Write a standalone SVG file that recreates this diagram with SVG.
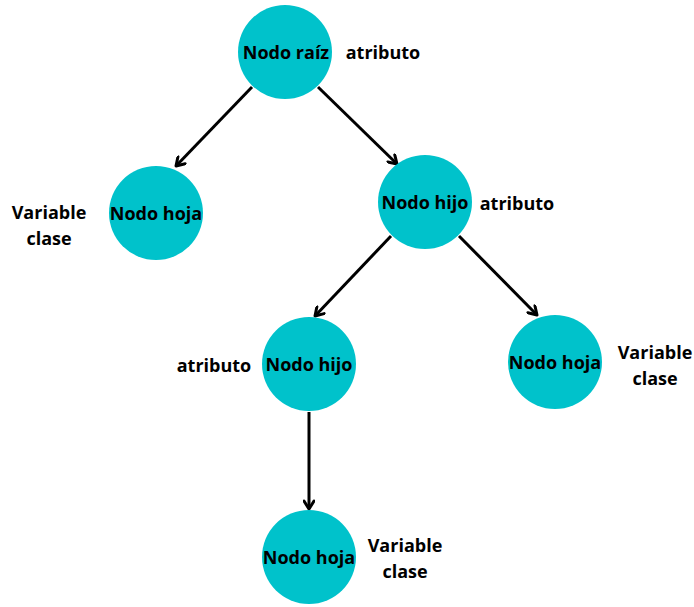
<svg xmlns="http://www.w3.org/2000/svg" width="694" height="607" viewBox="0 0 694 607">
  <style>
    .node { fill: #00C2CB; }
    .lbl { font-family: "Open Sans", "Liberation Sans", sans-serif; font-weight: bold; font-size: 18px; fill: #000; text-anchor: middle; dominant-baseline: central; }
    .edge { stroke: #000; stroke-width: 3; fill: none; marker-end: url(#chev); }
  </style>
  <defs>
    <marker id="chev" viewBox="0 0 12 12" refX="10" refY="6" markerWidth="12" markerHeight="12" markerUnits="userSpaceOnUse" orient="auto">
      <polyline points="2,1 10,6 2,11" fill="none" stroke="#000" stroke-width="3" stroke-linecap="round" stroke-linejoin="round"/>
    </marker>
  </defs>
  <rect width="694" height="607" fill="#fff"/>

  <g id="connectors">
    <line class="edge" x1="252" y1="87" x2="176" y2="166"/>
    <line class="edge" x1="318" y1="87" x2="397" y2="164"/>
    <line class="edge" x1="391" y1="236" x2="315" y2="316"/>
    <line class="edge" x1="459" y1="236" x2="537" y2="315"/>
    <line class="edge" x1="309" y1="412" x2="309" y2="509"/>
  </g>

  <g id="root">
    <circle class="node" cx="285" cy="52" r="47"/>
    <text class="lbl" x="286" y="52">Nodo raíz</text>
    <text class="lbl" x="383" y="52">atributo</text>
  </g>

  <g id="leaf-left">
    <circle class="node" cx="156" cy="213" r="47"/>
    <text class="lbl" x="156" y="213">Nodo hoja</text>
    <text class="lbl" x="49" y="212">Variable</text>
    <text class="lbl" x="49" y="238">clase</text>
  </g>

  <g id="child-right">
    <circle class="node" cx="425" cy="202" r="47"/>
    <text class="lbl" x="425" y="202">Nodo hijo</text>
    <text class="lbl" x="517" y="203">atributo</text>
  </g>

  <g id="child-lower">
    <circle class="node" cx="309" cy="364" r="47"/>
    <text class="lbl" x="309" y="364">Nodo hijo</text>
    <text class="lbl" x="214" y="365">atributo</text>
  </g>

  <g id="leaf-right">
    <circle class="node" cx="555" cy="362" r="47"/>
    <text class="lbl" x="555" y="362">Nodo hoja</text>
    <text class="lbl" x="655" y="352">Variable</text>
    <text class="lbl" x="655" y="378">clase</text>
  </g>

  <g id="leaf-bottom">
    <circle class="node" cx="309" cy="557" r="47"/>
    <text class="lbl" x="309" y="557">Nodo hoja</text>
    <text class="lbl" x="405" y="545">Variable</text>
    <text class="lbl" x="405" y="571">clase</text>
  </g>
</svg>
